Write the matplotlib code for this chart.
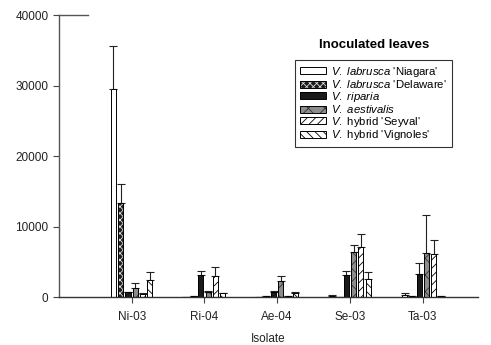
import numpy as np
import matplotlib
matplotlib.use("Agg")
import matplotlib.pyplot as plt

plt.rcParams['font.family'] = ['Liberation Sans', 'DejaVu Sans']
plt.rcParams['mathtext.fontset'] = 'custom'
plt.rcParams['mathtext.it'] = 'Liberation Sans:italic'
plt.rcParams['mathtext.rm'] = 'Liberation Sans'
plt.rcParams['hatch.linewidth'] = 0.6

# data
isolates = ["Ni-03", "Ri-04", "Ae-04", "Se-03", "Ta-03"]
labels = [r"$\it{V.\ labrusca}\ $'Niagara'",
          r"$\it{V.\ labrusca}\ $'Delaware'",
          r"$\it{V.\ riparia}$",
          r"$\it{V.\ aestivalis}$",
          r"$\it{V.}\ $hybrid 'Seyval'",
          r"$\it{V.}\ $hybrid 'Vignoles'"]
niagara = [29450, 50, 40, 190, 280]
delaware = [13300, 190, 100, 50, 100]
riparia = [670, 3120, 700, 3120, 3260]
aestivalis = [1280, 700, 2310, 6420, 6190]
seyval = [425, 2980, 140, 7130, 6050]
vignoles = [2410, 520, 520, 2550, 150]
# upper error bars
niagara_err = [6190, 0, 0, 70, 330]
delaware_err = [2770, 0, 0, 0, 0]
riparia_err = [0, 610, 100, 610, 1510]
aestivalis_err = [660, 150, 670, 950, 5440]
seyval_err = [185, 1230, 0, 1760, 2030]
vignoles_err = [1140, 90, 140, 950, 0]

means = [niagara, delaware, riparia, aestivalis, seyval, vignoles]
errs = [niagara_err, delaware_err, riparia_err, aestivalis_err, seyval_err, vignoles_err]
faces = ["white", "#1e1e1e", "#1a1a1a", "#8c8c8c", "white", "white"]
hatches = [None, "xxxxx", None, "xx", "////", "\\\\\\\\"]
hatch_cols = ["black", "#dddddd", "black", "#333333", "black", "black"]

fig = plt.figure(figsize=(4.91, 3.45), dpi=100)
ax = fig.add_axes([0.120, 0.139, 0.8535, 0.8175])

x = np.arange(len(isolates))
pitch = 0.1
width = 0.07
handles = []
for i in range(6):
    pos = x + (i - 2.5) * pitch
    b = ax.bar(pos, means[i], width, color=faces[i], edgecolor=hatch_cols[i],
               hatch=hatches[i], linewidth=0, label=labels[i], zorder=2)
    # outline in black
    o = ax.bar(pos, means[i], width, fill=False, edgecolor="black", linewidth=0.7, zorder=3)
    e = np.array(errs[i])
    ax.errorbar(pos, means[i], yerr=[np.zeros_like(e), e], fmt="none", ecolor="#222222",
                elinewidth=0.8, capsize=3, capthick=0.8, zorder=1)
    handles.append((b, o))

ax.set_xlim(-1.0, 4.76)
ax.set_ylim(0, 40000)
ax.set_yticks([0, 10000, 20000, 30000, 40000])
ax.set_xticks(x)
ax.set_xticklabels(isolates)
ax.tick_params(axis="both", labelsize=8.5, color="#444444", length=4, width=0.8,
               labelcolor="#222222")
ax.tick_params(axis="x", pad=6)
ax.spines["top"].set_visible(False)
ax.spines["right"].set_visible(False)
ax.spines["left"].set_color("#555555")
ax.spines["bottom"].set_color("#333333")
ax.spines["left"].set_linewidth(1.0)
ax.spines["bottom"].set_linewidth(1.0)
ax.axhline(40000, xmin=0, xmax=0.07, color="#555555", linewidth=1.0, clip_on=False)
ax.set_xlabel("Isolate", fontsize=8.5, color="#222222", labelpad=7)

fig.text(374 / 491, 1 - 45 / 345, "Inoculated leaves", fontsize=9.5, fontweight="bold",
         ha="center", va="center")
leg = fig.legend(handles=handles, labels=labels, loc="upper left",
                 bbox_to_anchor=(295 / 491, 1 - 60 / 345), fontsize=8.2, frameon=True,
                 fancybox=False, handlelength=2.3, handleheight=0.55, handletextpad=0.5,
                 labelspacing=-0.04, borderpad=0.4, borderaxespad=0)
leg.get_frame().set_edgecolor("black")
leg.get_frame().set_linewidth(0.8)

fig.savefig("out.png", dpi=100)
